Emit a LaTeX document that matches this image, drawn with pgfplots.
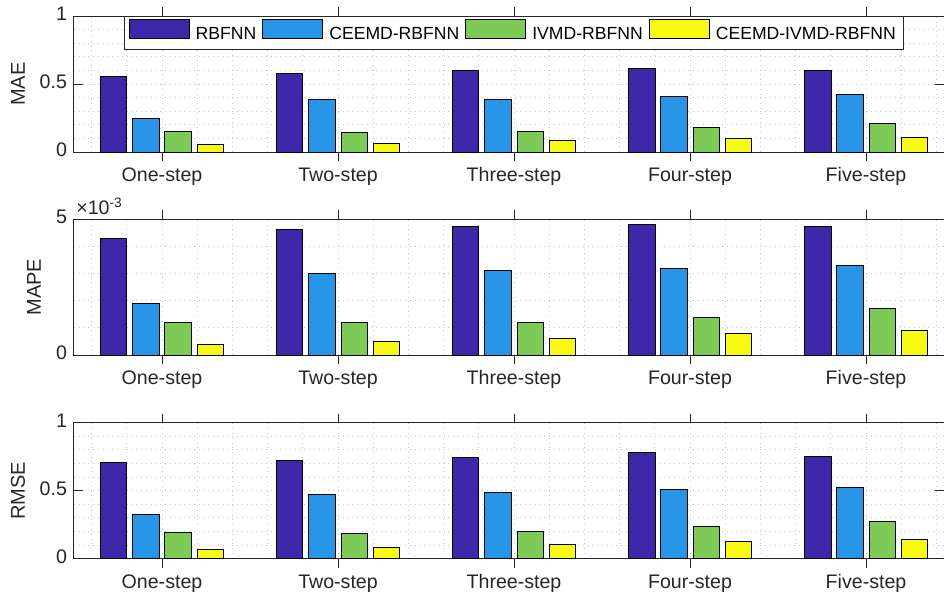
\documentclass[border=0pt]{standalone}
\usepackage{fontspec}
\setmainfont{Liberation Sans}
\usepackage{pgfplots}
\pgfplotsset{compat=1.18}

\definecolor{cA}{RGB}{62,38,168}
\definecolor{cB}{RGB}{40,148,232}
\definecolor{cC}{RGB}{126,202,87}
\definecolor{cD}{RGB}{249,250,20}
\definecolor{mgray}{RGB}{38,38,38}

\pgfplotsset{
  mstep/.style={
    width=435pt, height=68pt, scale only axis,
    anchor=south west,
    xmin=0.5, xmax=5.443,
    ymin=0,
    xtick={1,2,3,4,5},
    xticklabels={One-step,Two-step,Three-step,Four-step,Five-step},
    minor xtick={0.6,0.8,...,5.4},
    grid=both,
    major grid style={gray!45, dotted, line width=0.5pt},
    minor grid style={gray!45, dotted, line width=0.5pt},
    tick align=inside,
    major tick length=4.5pt,
    minor tick length=0pt,
    axis line style={mgray, line width=0.5pt},
    every tick/.style={mgray, line width=0.5pt},
    tick label style={font=\fontsize{9.8}{11}\selectfont, text=mgray},
    typeset ticklabels with strut,
    xticklabel style={yshift=1pt},
    /pgf/number format/assume math mode=true,
    label style={font=\fontsize{10}{12}\selectfont, text=mgray},
    ybar, bar width=0.148,
    every axis plot/.append style={draw=black, line width=0.5pt},
  }
}

\begin{document}
\begin{tikzpicture}
\path[use as bounding box] (0,0) rectangle (472pt,295.5pt);

% MAE
\begin{axis}[mstep, at={(37pt,219.5pt)},
  ymax=1, ytick={0,0.5,1}, minor ytick={0.1,0.2,...,0.9},
  ylabel={MAE},
  y label style={at={(axis description cs:0,0.5)}, anchor=center, yshift=28pt},
  legend columns=4,
  legend style={at={(0.506,1)}, anchor=north, draw=mgray, line width=0.5pt,
    font=\fontsize{8.8}{10}\selectfont, text=black,
    inner xsep=2pt, inner ysep=1.2pt,
    /tikz/every odd column/.append style={column sep=1pt},
    /tikz/every even column/.append style={column sep=1pt}},
  legend image code/.code={\draw[#1] (0pt,-1.6pt) rectangle (30pt,7.9pt);},
]
\addplot[fill=cA, bar shift=-0.273] coordinates {(1,0.552) (2,0.580) (3,0.597) (4,0.614) (5,0.599)};
\addplot[fill=cB, bar shift=-0.091] coordinates {(1,0.247) (2,0.384) (3,0.389) (4,0.409) (5,0.423)};
\addplot[fill=cC, bar shift=0.091] coordinates {(1,0.149) (2,0.144) (3,0.152) (4,0.181) (5,0.213)};
\addplot[fill=cD, bar shift=0.273] coordinates {(1,0.056) (2,0.064) (3,0.083) (4,0.100) (5,0.110)};
\legend{RBFNN,CEEMD-RBFNN,IVMD-RBFNN,CEEMD-IVMD-RBFNN}
\end{axis}

% MAPE
\begin{axis}[mstep, at={(37pt,118pt)},
  ymax=0.005, ytick={0,0.005}, minor ytick={0.001,0.002,0.003,0.004},
  scaled y ticks=base 10:3,
  ytick scale label code/.code={×10\textsuperscript{#1}},
  every y tick scale label/.style={at={(axis description cs:0,1)}, anchor=south west,
    inner sep=1pt, yshift=1pt, font=\fontsize{9.8}{11}\selectfont, text=mgray},
  ylabel={MAPE},
  y label style={at={(axis description cs:0,0.5)}, anchor=center, yshift=20pt},
]
\addplot[fill=cA, bar shift=-0.273] coordinates {(1,0.00430) (2,0.00460) (3,0.00471) (4,0.00480) (5,0.00471)};
\addplot[fill=cB, bar shift=-0.091] coordinates {(1,0.00189) (2,0.00300) (3,0.00310) (4,0.00319) (5,0.00329)};
\addplot[fill=cC, bar shift=0.091] coordinates {(1,0.00119) (2,0.00119) (3,0.00119) (4,0.00139) (5,0.00170)};
\addplot[fill=cD, bar shift=0.273] coordinates {(1,0.00039) (2,0.00049) (3,0.00059) (4,0.00079) (5,0.00089)};
\end{axis}

% RMSE
\begin{axis}[mstep, at={(37pt,16.2pt)},
  ymax=1, ytick={0,0.5,1}, minor ytick={0.1,0.2,...,0.9},
  ylabel={RMSE},
  y label style={at={(axis description cs:0,0.5)}, anchor=center, yshift=28pt},
]
\addplot[fill=cA, bar shift=-0.273] coordinates {(1,0.708) (2,0.725) (3,0.742) (4,0.780) (5,0.753)};
\addplot[fill=cB, bar shift=-0.091] coordinates {(1,0.324) (2,0.473) (3,0.483) (4,0.508) (5,0.525)};
\addplot[fill=cC, bar shift=0.091] coordinates {(1,0.191) (2,0.188) (3,0.196) (4,0.233) (5,0.275)};
\addplot[fill=cD, bar shift=0.273] coordinates {(1,0.069) (2,0.084) (3,0.104) (4,0.124) (5,0.137)};
\end{axis}
\end{tikzpicture}
\end{document}
